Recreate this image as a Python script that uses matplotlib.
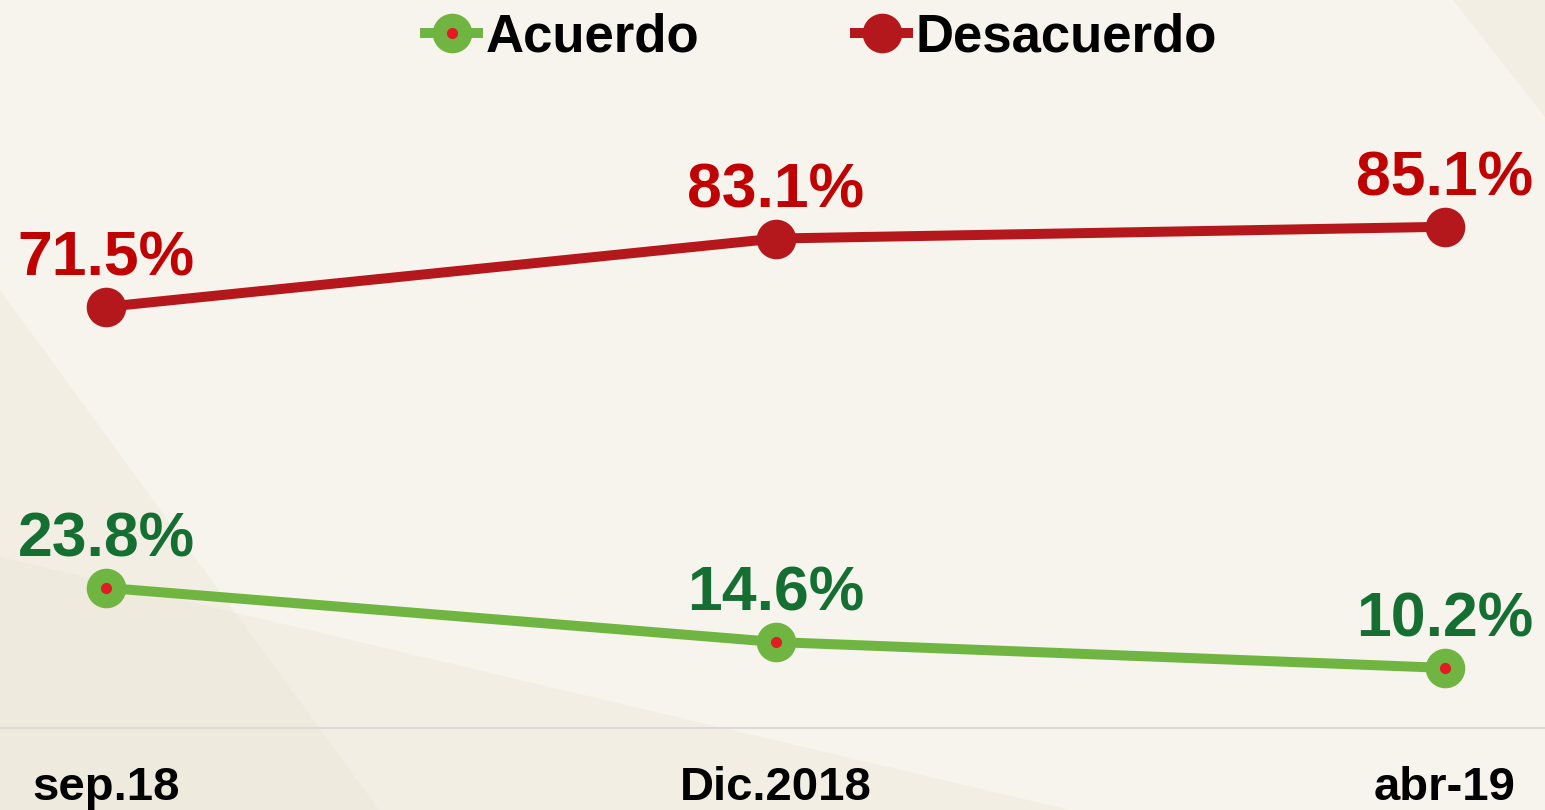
import matplotlib
matplotlib.use("Agg")
import matplotlib.pyplot as plt
from matplotlib.patches import Polygon
from matplotlib.legend_handler import HandlerTuple

plt.rcParams["font.family"] = ["Liberation Sans", "DejaVu Sans"]
plt.rcParams["font.weight"] = "bold"

fechas = ["sep.18", "Dic.2018", "abr-19"]
acuerdo = [23.8, 14.6, 10.2]
desacuerdo = [71.5, 83.1, 85.1]

verde = "#70b541"
verde_txt = "#156f32"
rojo = "#b4181c"
rojo_txt = "#c00000"
punto = "#e31b23"
fondo = "#f7f4ed"

W, H = 1545, 810
fig = plt.figure(figsize=(W / 100, H / 100), dpi=100, facecolor=fondo)


def px(pts):
    # pixel coords measured from the top-left corner -> figure fraction
    return [(x / W, 1 - y / H) for x, y in pts]


# soft diagonal shading in the background
for pts in ([(0, 290), (379, 810), (0, 810)],
            [(0, 557), (1070, 810), (0, 810)],
            [(1453, 0), (1545, 0), (1545, 117)]):
    fig.patches.append(Polygon(px(pts), closed=True, transform=fig.transFigure,
                               facecolor="#e9e3d4", alpha=0.35, lw=0, zorder=-5))

ax = fig.add_axes([0, 82 / H, 1, (728 - 139) / H])
ax.set_facecolor("none")
x = list(range(len(fechas)))

l_des, = ax.plot(x, desacuerdo, color=rojo, lw=7.2, marker="o", ms=27.5,
                 solid_capstyle="butt", zorder=3)
l_acu, = ax.plot(x, acuerdo, color=verde, lw=7.2, marker="o", ms=27.5,
                 solid_capstyle="butt", zorder=3)
d_acu, = ax.plot(x, acuerdo, ls="none", marker="o", ms=7, color=punto, zorder=4)

for xi, v in zip(x, desacuerdo):
    ax.annotate(f"{v:.1f}%", (xi, v), xytext=(0, 22.5), textcoords="offset points",
                ha="center", va="baseline", fontsize=45, color=rojo_txt)
for xi, v in zip(x, acuerdo):
    ax.annotate(f"{v:.1f}%", (xi, v), xytext=(0, 22.5), textcoords="offset points",
                ha="center", va="baseline", fontsize=45, color=verde_txt)

for xi, lab in zip(x, fechas):
    ax.annotate(lab, (xi, 0), xycoords=("data", "axes fraction"), xytext=(0, -52),
                textcoords="offset points", ha="center", va="baseline",
                fontsize=34, color="black", annotation_clip=False)

ax.set_xlim(-106 / 669.5, 2 + 100 / 669.5)
ax.set_ylim(0, 100)
ax.set_xticks([])
ax.set_yticks([])
for s in ("top", "left", "right"):
    ax.spines[s].set_visible(False)
ax.spines["bottom"].set_color("#dcdad6")
ax.spines["bottom"].set_linewidth(1.5)

fig.legend([(l_acu, d_acu), l_des], ["Acuerdo", "Desacuerdo"],
           handler_map={tuple: HandlerTuple(ndivide=1)},
           loc="center left", bbox_to_anchor=(420 / W, 1 - 37 / H), ncol=2,
           frameon=False, prop=dict(family="Liberation Sans", weight="bold", size=38),
           handlelength=1.2, handletextpad=0.05, columnspacing=2.85,
           borderpad=0, borderaxespad=0)

fig.savefig("out.png", dpi=100, facecolor=fondo)
